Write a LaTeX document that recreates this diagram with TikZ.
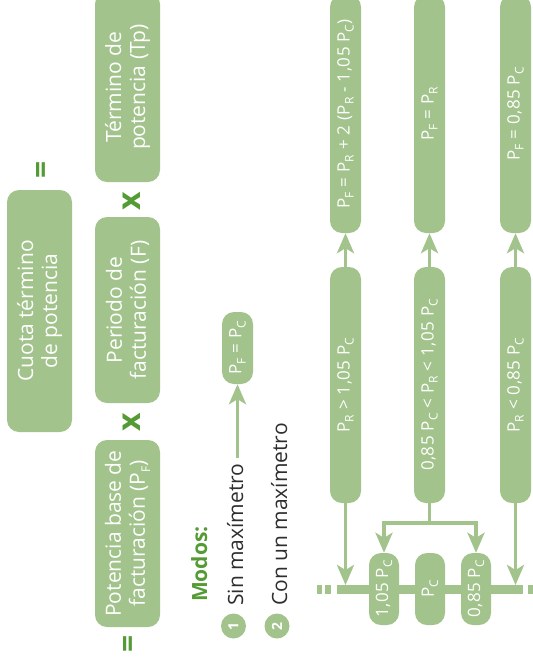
\documentclass[tikz,border=0pt]{standalone}
\usepackage{fontspec}
\setmainfont{Open Sans}
\newfontfamily\spc[LetterSpace=3]{Open Sans}
\usetikzlibrary{arrows.meta}
\definecolor{boxg}{HTML}{A2C38B}
\definecolor{dkg}{HTML}{559B35}
\definecolor{txt}{HTML}{2E2E2E}
\newcommand{\sbs}[1]{\raisebox{-0.45ex}{\fontsize{12}{12}\selectfont #1}}
\tikzset{
  bigbox/.style={fill=boxg, rounded corners=12pt, rotate=90, text=white, align=center,
    font=\fontsize{21}{24}\selectfont, inner sep=0pt, minimum height=65pt},
  slimbox/.style={fill=boxg, rounded corners=12pt, rotate=90, text=white,
    font=\spc\fontsize{17}{20}\selectfont, inner sep=0pt, minimum height=31pt},
  opsym/.style={rotate=90, text=dkg, font=\bfseries\fontsize{30}{30}\selectfont, inner sep=0pt},
  modetext/.style={rotate=90, anchor=base west, inner sep=0pt, text=txt, font=\fontsize{21}{21}\selectfont},
  numcirc/.style={circle, fill=boxg, minimum size=25pt, inner sep=0pt, text=white, rotate=90,
    font=\bfseries\fontsize{14}{14}\selectfont},
  conn/.style={draw=boxg, line width=3.5pt},
  arr/.style={conn, -{Stealth[length=20pt,width=17pt,inset=5pt]}},
}
\begin{document}
\begin{tikzpicture}[x=1pt,y=-1pt]
\useasboundingbox (0,0) rectangle (533,659);
% left part
\node[bigbox, minimum width=242pt] (cuota) at (39.5,311) {Cuota término\\de potencia};
\node[bigbox, minimum width=190pt] (tp) at (127.5,87) {Término de\\potencia (Tp)};
\node[bigbox, minimum width=186pt] (per) at (127.5,310) {Periodo de\\facturación (F)};
\node[bigbox, minimum width=187pt] (pot) at (127.5,533.5) {Potencia base de\\facturación (P\sbs{F})};
\node[opsym] (eq1) at (44,170) {=};
\node[opsym, font=\bfseries\fontsize{32}{32}\selectfont] (x1) at (132,201) {x};
\node[opsym, font=\bfseries\fontsize{32}{32}\selectfont] (x2) at (132,422) {x};
\node[opsym] (eq2) at (131,644) {=};
% modes
\node[modetext, text=dkg, font=\bfseries\fontsize{21}{21}\selectfont] (modos) at (207,602) {Modos:};
\node[numcirc] (c1) at (233.5,626) {1};
\node[numcirc] (c2) at (277,626) {2};
\node[modetext] (sin) at (243,606) {Sin maxímetro};
\node[modetext] (con) at (287,606) {Con un maxímetro};
\node[slimbox, minimum width=72pt] (pfpc) at (237.5,348) {P\sbs{F} = P\sbs{C}};
\draw[arr, shorten <=5pt] (pfpc.west |- sin.east) -- (pfpc.west);
% right part: bar
\draw[boxg, line width=9pt] (337,589.5) -- (523,589.5);
\draw[boxg, line width=9pt] (317,589.5) -- (322,589.5);
\draw[boxg, line width=9pt] (325,589.5) -- (331,589.5);
\draw[boxg, line width=9pt] (528,589.5) -- (534,589.5);
\node[slimbox, minimum width=72pt, minimum height=30pt] (s1) at (384,589) {1,05 P\sbs{C}};
\node[slimbox, minimum width=72pt, minimum height=30pt] (s2) at (430,589) {P\sbs{C}};
\node[slimbox, minimum width=72pt, minimum height=30pt] (s3) at (476,589) {0,85 P\sbs{C}};
% conditions
\node[slimbox, minimum width=236pt] (la) at (345.5,385) {P\sbs{R} > 1,05 P\sbs{C}};
\node[slimbox, minimum width=236pt] (lb) at (429.5,385) {0,85 P\sbs{C} < P\sbs{R} < 1,05 P\sbs{C}};
\node[slimbox, minimum width=236pt] (lc) at (515.5,385) {P\sbs{R} < 0,85 P\sbs{C}};
% results
\node[slimbox, minimum width=238pt] (ta) at (345.5,114) {P\sbs{F} = P\sbs{R} + 2 (P\sbs{R} - 1,05 P\sbs{C})};
\node[slimbox, minimum width=238pt] (tb) at (429.5,114) {P\sbs{F} = P\sbs{R}};
\node[slimbox, minimum width=238pt] (tc) at (515.5,114) {P\sbs{F} = 0,85 P\sbs{C}};
\draw[arr] (la.east) -- (ta.west);
\draw[arr] (lb.east) -- (tb.west);
\draw[arr] (lc.east) -- (tc.west);
% to bar
\coordinate (tipa) at (345.5,585);
\coordinate (tipc) at (515.5,585);
\coordinate (split) at (429.5,523);
\draw[arr] (la.west) -- (tipa);
\draw[arr] (lc.west) -- (tipc);
\draw[conn] (lb.west) -- (split);
\draw[arr] (split) -| (s1.east);
\draw[arr] (split) -| (s3.east);
\end{tikzpicture}
\end{document}
